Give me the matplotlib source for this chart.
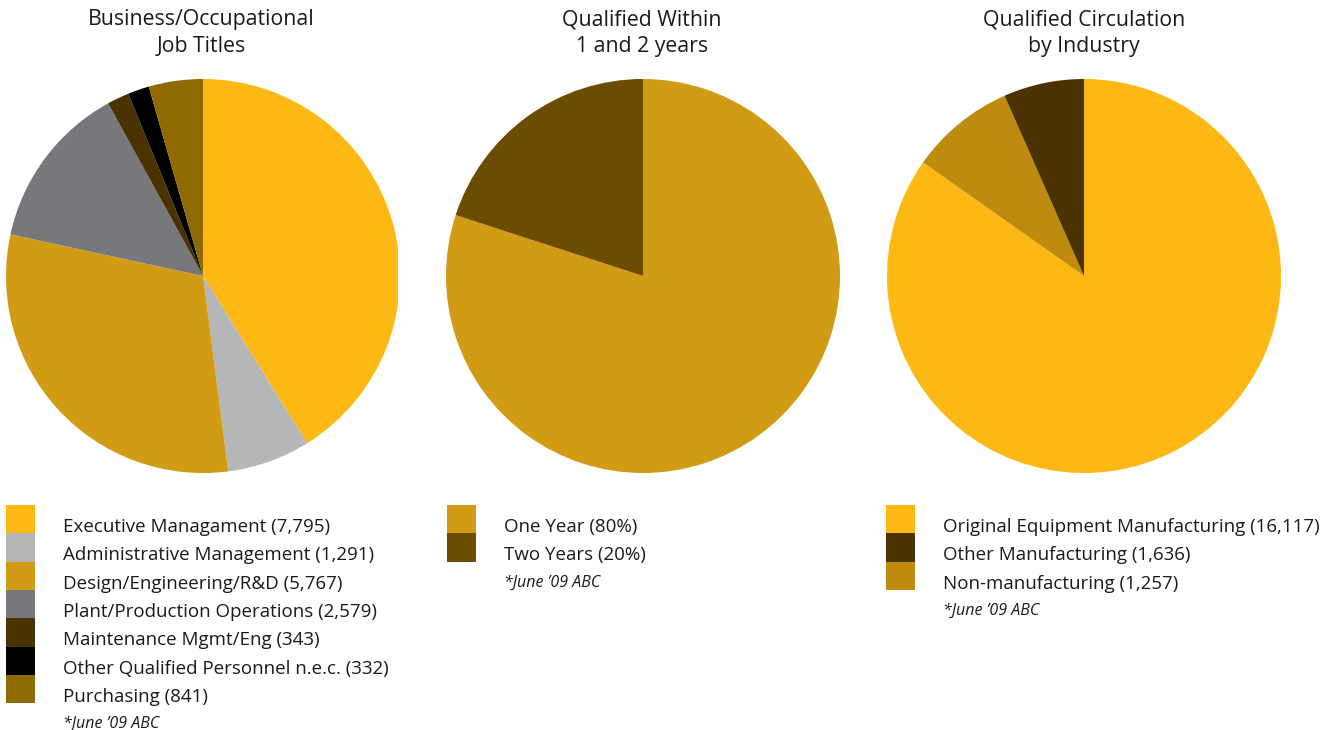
import matplotlib
matplotlib.use("Agg")
import matplotlib.pyplot as plt
from matplotlib.patches import Rectangle

plt.rcParams['font.family'] = ['Open Sans', 'DejaVu Sans']

# ---------------- data ----------------
titles = ["Business/Occupational\nJob Titles",
          "Qualified Within\n1 and 2 years",
          "Qualified Circulation\nby Industry"]

job_labels = ["Executive Managament (7,795)", "Administrative Management (1,291)",
              "Design/Engineering/R&D (5,767)", "Plant/Production Operations (2,579)",
              "Maintenance Mgmt/Eng (343)", "Other Qualified Personnel n.e.c. (332)",
              "Purchasing (841)"]
job_values = [7795, 1291, 5767, 2579, 343, 332, 841]
job_colors = ["#FDB813", "#B5B6B8", "#D19B14", "#77787B", "#4A3300", "#000000", "#8F6A00"]

year_labels = ["One Year (80%)", "Two Years (20%)"]
year_values = [80, 20]
year_colors = ["#D19B14", "#6B4C00"]

ind_labels = ["Original Equipment Manufacturing (16,117)", "Other Manufacturing (1,636)",
              "Non-manufacturing (1,257)"]
ind_values = [16117, 1636, 1257]
ind_pie_colors = ["#FDB813", "#BF8B0F", "#4A3300"]
ind_legend_colors = ["#FDB813", "#4A3300", "#BF8B0F"]

footnote = "*June \u201909 ABC"

# ---------------- layout ----------------
W, H = 1344, 730
fig = plt.figure(figsize=(W / 100, H / 100), dpi=100)

def fx(px):
    return px / W

def fy(py):
    return 1 - py / H

R = 197
cy = 276
centers = [203, 643, 1084]
right_clip = [398, None, None]

pies = [(job_values, job_colors), (year_values, year_colors), (ind_values, ind_pie_colors)]

for i, (vals, cols) in enumerate(pies):
    cx = centers[i]
    left = cx - 1.05 * R
    right = right_clip[i] if right_clip[i] else cx + 1.05 * R
    bottom = cy + 1.05 * R
    top = cy - 1.05 * R
    ax = fig.add_axes([fx(left), fy(bottom), (right - left) / W, (bottom - top) / H])
    wedges, _ = ax.pie(vals, colors=cols, startangle=90, counterclock=False, radius=1,
                       wedgeprops=dict(linewidth=0, antialiased=True))
    for w in wedges:
        w.set_clip_on(True)
        w.set_clip_path(ax.patch)
    ax.set_xlim((left - cx) / R, (right - cx) / R)
    ax.set_ylim(-1.05, 1.05)
    ax.set_aspect('auto')
    ax.axis('off')

title_x = [201, 642, 1084]
for i, t in enumerate(titles):
    fig.text(fx(title_x[i]), fy(33), t, ha='center', va='center', fontsize=15.3,
             color='#1a1a1a', linespacing=1.33)

# ---------------- legends ----------------
legends = [(job_labels, job_colors, 6), (year_labels, year_colors, 447),
           (ind_labels, ind_legend_colors, 886)]
sw_w, sw_h, y0 = 29, 28.3, 505
for labels, cols, lx in legends:
    for j, (lab, c) in enumerate(zip(labels, cols)):
        ytop = y0 + j * sw_h
        fig.add_artist(Rectangle((fx(lx), fy(ytop + sw_h)), sw_w / W, sw_h / H,
                                 transform=fig.transFigure, facecolor=c,
                                 edgecolor='none'))
        fig.text(fx(lx + 57), fy(ytop + sw_h / 2 + 8), lab, ha='left', va='center',
                 fontsize=13.5, color='#1a1a1a')
    fig.text(fx(lx + 57), fy(y0 + len(labels) * sw_h + 21), footnote, ha='left',
             va='center', fontsize=11.5, style='italic', color='#1a1a1a')

fig.savefig("out.png", dpi=100)
